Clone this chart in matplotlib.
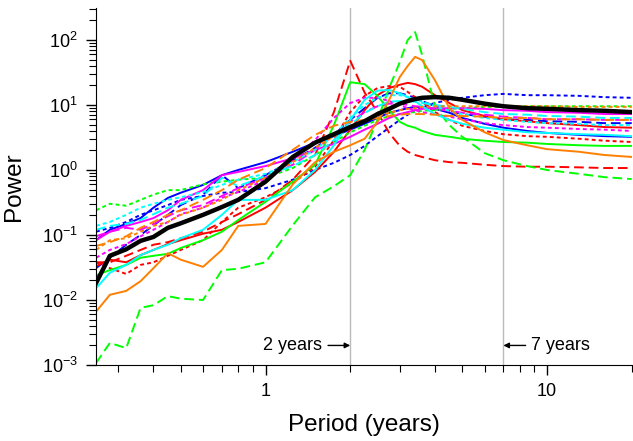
import matplotlib
matplotlib.use("Agg")
import matplotlib.pyplot as plt
import matplotlib.ticker as mticker
import numpy as np

plt.rcParams["font.family"] = ["Liberation Sans", "DejaVu Sans"]
plt.rcParams["mathtext.fontset"] = "custom"
plt.rcParams["mathtext.rm"] = "Liberation Sans"
plt.rcParams["mathtext.default"] = "regular"

# period (years) shared by every spectrum
periods = [0.25, 0.28, 0.32, 0.36, 0.4, 0.45, 0.5, 0.6, 0.7, 0.8, 1.0, 1.25,
           1.5, 1.75, 2.0, 2.25, 2.5, 2.75, 3.0, 3.2, 3.4, 3.6, 4.0, 4.5,
           5.0, 6.0, 7.0, 8.5, 10, 13, 16, 20]

# log10(power)
blue_solid = [-1.08, -0.92, -0.83, -0.74, -0.58, -0.43, -0.35, -0.23, -0.08, 0.0, 0.12, 0.28,
              0.42, 0.52, 0.62, 0.71, 0.8, 0.88, 0.92, 0.95, 0.97, 0.97, 0.94, 0.88,
              0.8, 0.71, 0.65, 0.6, 0.57, 0.54, 0.52, 0.51]
blue_dashed = [-1.51, -1.35, -1.15, -1.0, -0.85, -0.69, -0.54, -0.38, -0.08, -0.28, -0.08, 0.15,
               0.34, 0.54, 0.77, 0.95, 1.11, 1.18, 1.18, 1.15, 1.11, 1.06, 0.98, 0.91,
               0.86, 0.82, 0.78, 0.77, 0.75, 0.74, 0.72, 0.72]
blue_dotted = [-0.95, -0.89, -0.8, -0.69, -0.62, -0.54, -0.46, -0.4, -0.35, -0.34, -0.28, -0.15,
               0.0, 0.11, 0.23, 0.37, 0.52, 0.65, 0.77, 0.85, 0.92, 0.97, 1.03, 1.08,
               1.11, 1.15, 1.17, 1.15, 1.15, 1.14, 1.12, 1.11]
red_solid = [-1.48, -1.38, -1.42, -1.31, -1.23, -1.14, -1.08, -0.98, -0.92, -0.8, -0.58, -0.31,
             -0.03, 0.28, 0.62, 0.92, 1.15, 1.26, 1.31, 1.34, 1.32, 1.28, 1.15, 1.03,
             0.92, 0.83, 0.78, 0.75, 0.72, 0.69, 0.66, 0.65]
red_dashed = [-1.42, -1.42, -1.32, -1.23, -1.15, -1.11, -1.05, -0.95, -0.8, -0.68, -0.46, -0.15,
              0.23, 0.89, 1.68, 1.19, 0.89, 0.57, 0.37, 0.28, 0.23, 0.2, 0.15, 0.12,
              0.11, 0.08, 0.06, 0.05, 0.05, 0.04, 0.03, 0.03]
red_dotted = [-1.42, -1.51, -1.6, -1.46, -1.42, -1.32, -1.23, -1.08, -0.8, -0.58, -0.42, -0.2,
              0.05, 0.46, 0.89, 1.14, 1.26, 1.29, 1.28, 1.2, 1.12, 1.05, 0.89, 0.77,
              0.68, 0.6, 0.55, 0.52, 0.51, 0.48, 0.45, 0.43]
green_solid = [-1.62, -1.54, -1.46, -1.35, -1.32, -1.29, -1.2, -1.08, -0.95, -0.77, -0.49, -0.18,
               0.08, 0.69, 1.35, 1.32, 1.14, 0.92, 0.74, 0.68, 0.65, 0.6, 0.54, 0.51,
               0.48, 0.45, 0.43, 0.42, 0.4, 0.38, 0.37, 0.37]
green_dashed = [-2.97, -2.66, -2.74, -2.12, -2.08, -1.94, -1.98, -2.0, -1.54, -1.52, -1.42, -0.85,
                -0.42, -0.25, -0.08, 0.31, 0.77, 1.26, 1.66, 2.0, 2.12, 1.77, 0.97, 0.69,
                0.51, 0.26, 0.15, 0.06, 0.0, -0.06, -0.11, -0.14]
green_dotted = [-0.62, -0.52, -0.55, -0.46, -0.38, -0.31, -0.31, -0.22, -0.18, -0.15, -0.12, 0.03,
                0.23, 0.43, 0.58, 0.68, 0.77, 0.83, 0.86, 0.88, 0.89, 0.91, 0.92, 0.94,
                0.95, 0.97, 0.97, 0.98, 0.98, 0.98, 0.98, 0.98]
magenta_solid = [-1.08, -0.95, -0.86, -0.8, -0.74, -0.62, -0.46, -0.31, -0.08, -0.03, 0.06, 0.18,
                 0.31, 0.4, 0.51, 0.62, 0.71, 0.8, 0.86, 0.89, 0.92, 0.94, 0.95, 0.95,
                 0.95, 0.94, 0.92, 0.91, 0.89, 0.88, 0.86, 0.86]
magenta_dashed = [-1.02, -0.95, -0.89, -0.92, -0.83, -0.71, -0.62, -0.54, -0.4, -0.28, -0.12, 0.08,
                  0.31, 0.54, 0.74, 0.89, 0.98, 1.02, 1.02, 1.0, 0.98, 0.97, 0.94, 0.91,
                  0.88, 0.85, 0.82, 0.8, 0.78, 0.78, 0.77, 0.77]
magenta_dotted = [-1.35, -1.23, -1.14, -1.02, -0.92, -0.8, -0.68, -0.58, -0.43, -0.34, -0.15, 0.15,
                  0.46, 0.8, 1.03, 1.11, 1.11, 1.06, 1.0, 0.95, 0.92, 0.89, 0.85, 0.82,
                  0.78, 0.72, 0.69, 0.66, 0.65, 0.63, 0.62, 0.6]
cyan_solid = [-1.82, -1.58, -1.46, -1.31, -1.23, -1.15, -1.05, -0.92, -0.69, -0.46, -0.46, -0.31,
              0.0, 0.38, 0.77, 1.08, 1.22, 1.23, 1.18, 1.12, 1.06, 0.98, 0.86, 0.77,
              0.71, 0.65, 0.62, 0.58, 0.57, 0.55, 0.54, 0.52]
cyan_dashed = [-0.92, -0.86, -0.83, -0.77, -0.68, -0.58, -0.52, -0.4, -0.12, -0.25, -0.09, 0.06,
               0.23, 0.46, 0.69, 0.88, 0.98, 1.05, 1.06, 1.06, 1.05, 1.03, 1.0, 0.97,
               0.94, 0.89, 0.86, 0.85, 0.83, 0.82, 0.8, 0.8]
cyan_dotted = [-0.86, -0.8, -0.69, -0.58, -0.52, -0.46, -0.42, -0.34, -0.23, -0.15, -0.06, 0.12,
               0.31, 0.54, 0.8, 1.0, 1.11, 1.15, 1.15, 1.12, 1.09, 1.05, 0.98, 0.91,
               0.86, 0.8, 0.77, 0.74, 0.72, 0.71, 0.69, 0.69]
orange_solid = [-2.18, -1.92, -1.86, -1.71, -1.51, -1.28, -1.38, -1.49, -1.23, -0.86, -0.83, -0.22,
                0.12, 0.28, 0.38, 0.48, 0.74, 1.08, 1.43, 1.6, 1.74, 1.69, 1.38, 0.95,
                0.77, 0.58, 0.46, 0.38, 0.32, 0.28, 0.23, 0.2]
orange_dashed = [-1.17, -1.11, -1.02, -0.89, -0.8, -0.69, -0.62, -0.46, -0.31, -0.15, 0.03, 0.31,
                 0.54, 0.68, 0.74, 0.77, 0.8, 0.83, 0.85, 0.86, 0.86, 0.86, 0.85, 0.83,
                 0.83, 0.82, 0.8, 0.8, 0.78, 0.78, 0.77, 0.77]
orange_dotted = [-1.23, -1.08, -1.05, -0.95, -0.86, -0.8, -0.69, -0.58, -0.46, -0.31, -0.12, 0.12,
                 0.34, 0.52, 0.65, 0.74, 0.82, 0.88, 0.92, 0.94, 0.95, 0.97, 0.98, 0.98,
                 0.98, 0.98, 0.98, 0.98, 0.98, 0.97, 0.97, 0.97]
ensemble_mean = [-1.74, -1.32, -1.22, -1.09, -1.03, -0.89, -0.82, -0.69, -0.57, -0.46, -0.18, 0.2,
                 0.42, 0.55, 0.66, 0.75, 0.86, 0.94, 1.02, 1.06, 1.09, 1.11, 1.12, 1.11,
                 1.08, 1.02, 0.98, 0.95, 0.94, 0.92, 0.91, 0.89]

BLUE, RED, GREEN = "#0000ff", "#ff0000", "#00ff00"
MAGENTA, CYAN, ORANGE = "#ff00ff", "#00ffff", "#ff8000"
SOLID, DASHED, DOTTED = "-", (0, (5, 2.5)), (0, (2, 1.6))

curves = [
    (blue_solid, BLUE, SOLID), (blue_dashed, BLUE, DASHED), (blue_dotted, BLUE, DOTTED),
    (red_solid, RED, SOLID), (red_dashed, RED, DASHED), (red_dotted, RED, DOTTED),
    (green_solid, GREEN, SOLID), (green_dashed, GREEN, DASHED), (green_dotted, GREEN, DOTTED),
    (magenta_solid, MAGENTA, SOLID), (magenta_dashed, MAGENTA, DASHED), (magenta_dotted, MAGENTA, DOTTED),
    (cyan_solid, CYAN, SOLID), (cyan_dashed, CYAN, DASHED), (cyan_dotted, CYAN, DOTTED),
    (orange_solid, ORANGE, SOLID), (orange_dashed, ORANGE, DASHED), (orange_dotted, ORANGE, DOTTED),
]

fig = plt.figure(figsize=(6.33, 4.41), dpi=100)
ax = fig.add_axes([0.1517, 0.1723, 0.8463, 0.8096])

ax.axvline(2, color="#bbbbbb", lw=1.0, zorder=1)
ax.axvline(7, color="#bbbbbb", lw=1.0, zorder=1)

for vals, col, ls in curves:
    ax.plot(periods, 10 ** np.array(vals), color=col, ls=ls, lw=1.4, zorder=2)
ax.plot(periods, 10 ** np.array(ensemble_mean), color="black", lw=3.2, zorder=3)

ax.set_xscale("log")
ax.set_yscale("log")
ax.set_xlim(0.25, 20)
ax.set_ylim(1e-3, 310)

ax.xaxis.set_major_locator(mticker.FixedLocator([1, 10]))
ax.xaxis.set_major_formatter(mticker.FixedFormatter(["1", "10"]))
ax.xaxis.set_minor_locator(mticker.LogLocator(base=10, subs=np.arange(2, 10)))
ax.xaxis.set_minor_formatter(mticker.NullFormatter())
ax.yaxis.set_major_locator(mticker.LogLocator(base=10, numticks=10))
ax.yaxis.set_minor_locator(mticker.LogLocator(base=10, subs=np.arange(2, 10), numticks=10))
ax.yaxis.set_minor_formatter(mticker.NullFormatter())

ax.tick_params(which="major", direction="out", length=7, width=1, labelsize=13, pad=6)
ax.tick_params(which="minor", direction="out", length=5, width=0.8)
ax.spines["top"].set_visible(False)
ax.spines["right"].set_visible(False)

ax.set_xlabel("Period (years)", fontsize=17.5, labelpad=10)
ax.set_ylabel("Power", fontsize=17.5, labelpad=12)

ax.annotate("2 years", xy=(2, 0.002), xytext=(-20, 0), textcoords="offset points",
            ha="right", va="center", fontsize=13,
            arrowprops=dict(arrowstyle="-|>", color="black", lw=1, shrinkA=2, shrinkB=0,
                            mutation_scale=8))
ax.annotate("7 years", xy=(7, 0.002), xytext=(20, 0), textcoords="offset points",
            ha="left", va="center", fontsize=13,
            arrowprops=dict(arrowstyle="-|>", color="black", lw=1, shrinkA=2, shrinkB=0,
                            mutation_scale=8))

fig.savefig("out.png", dpi=100)
